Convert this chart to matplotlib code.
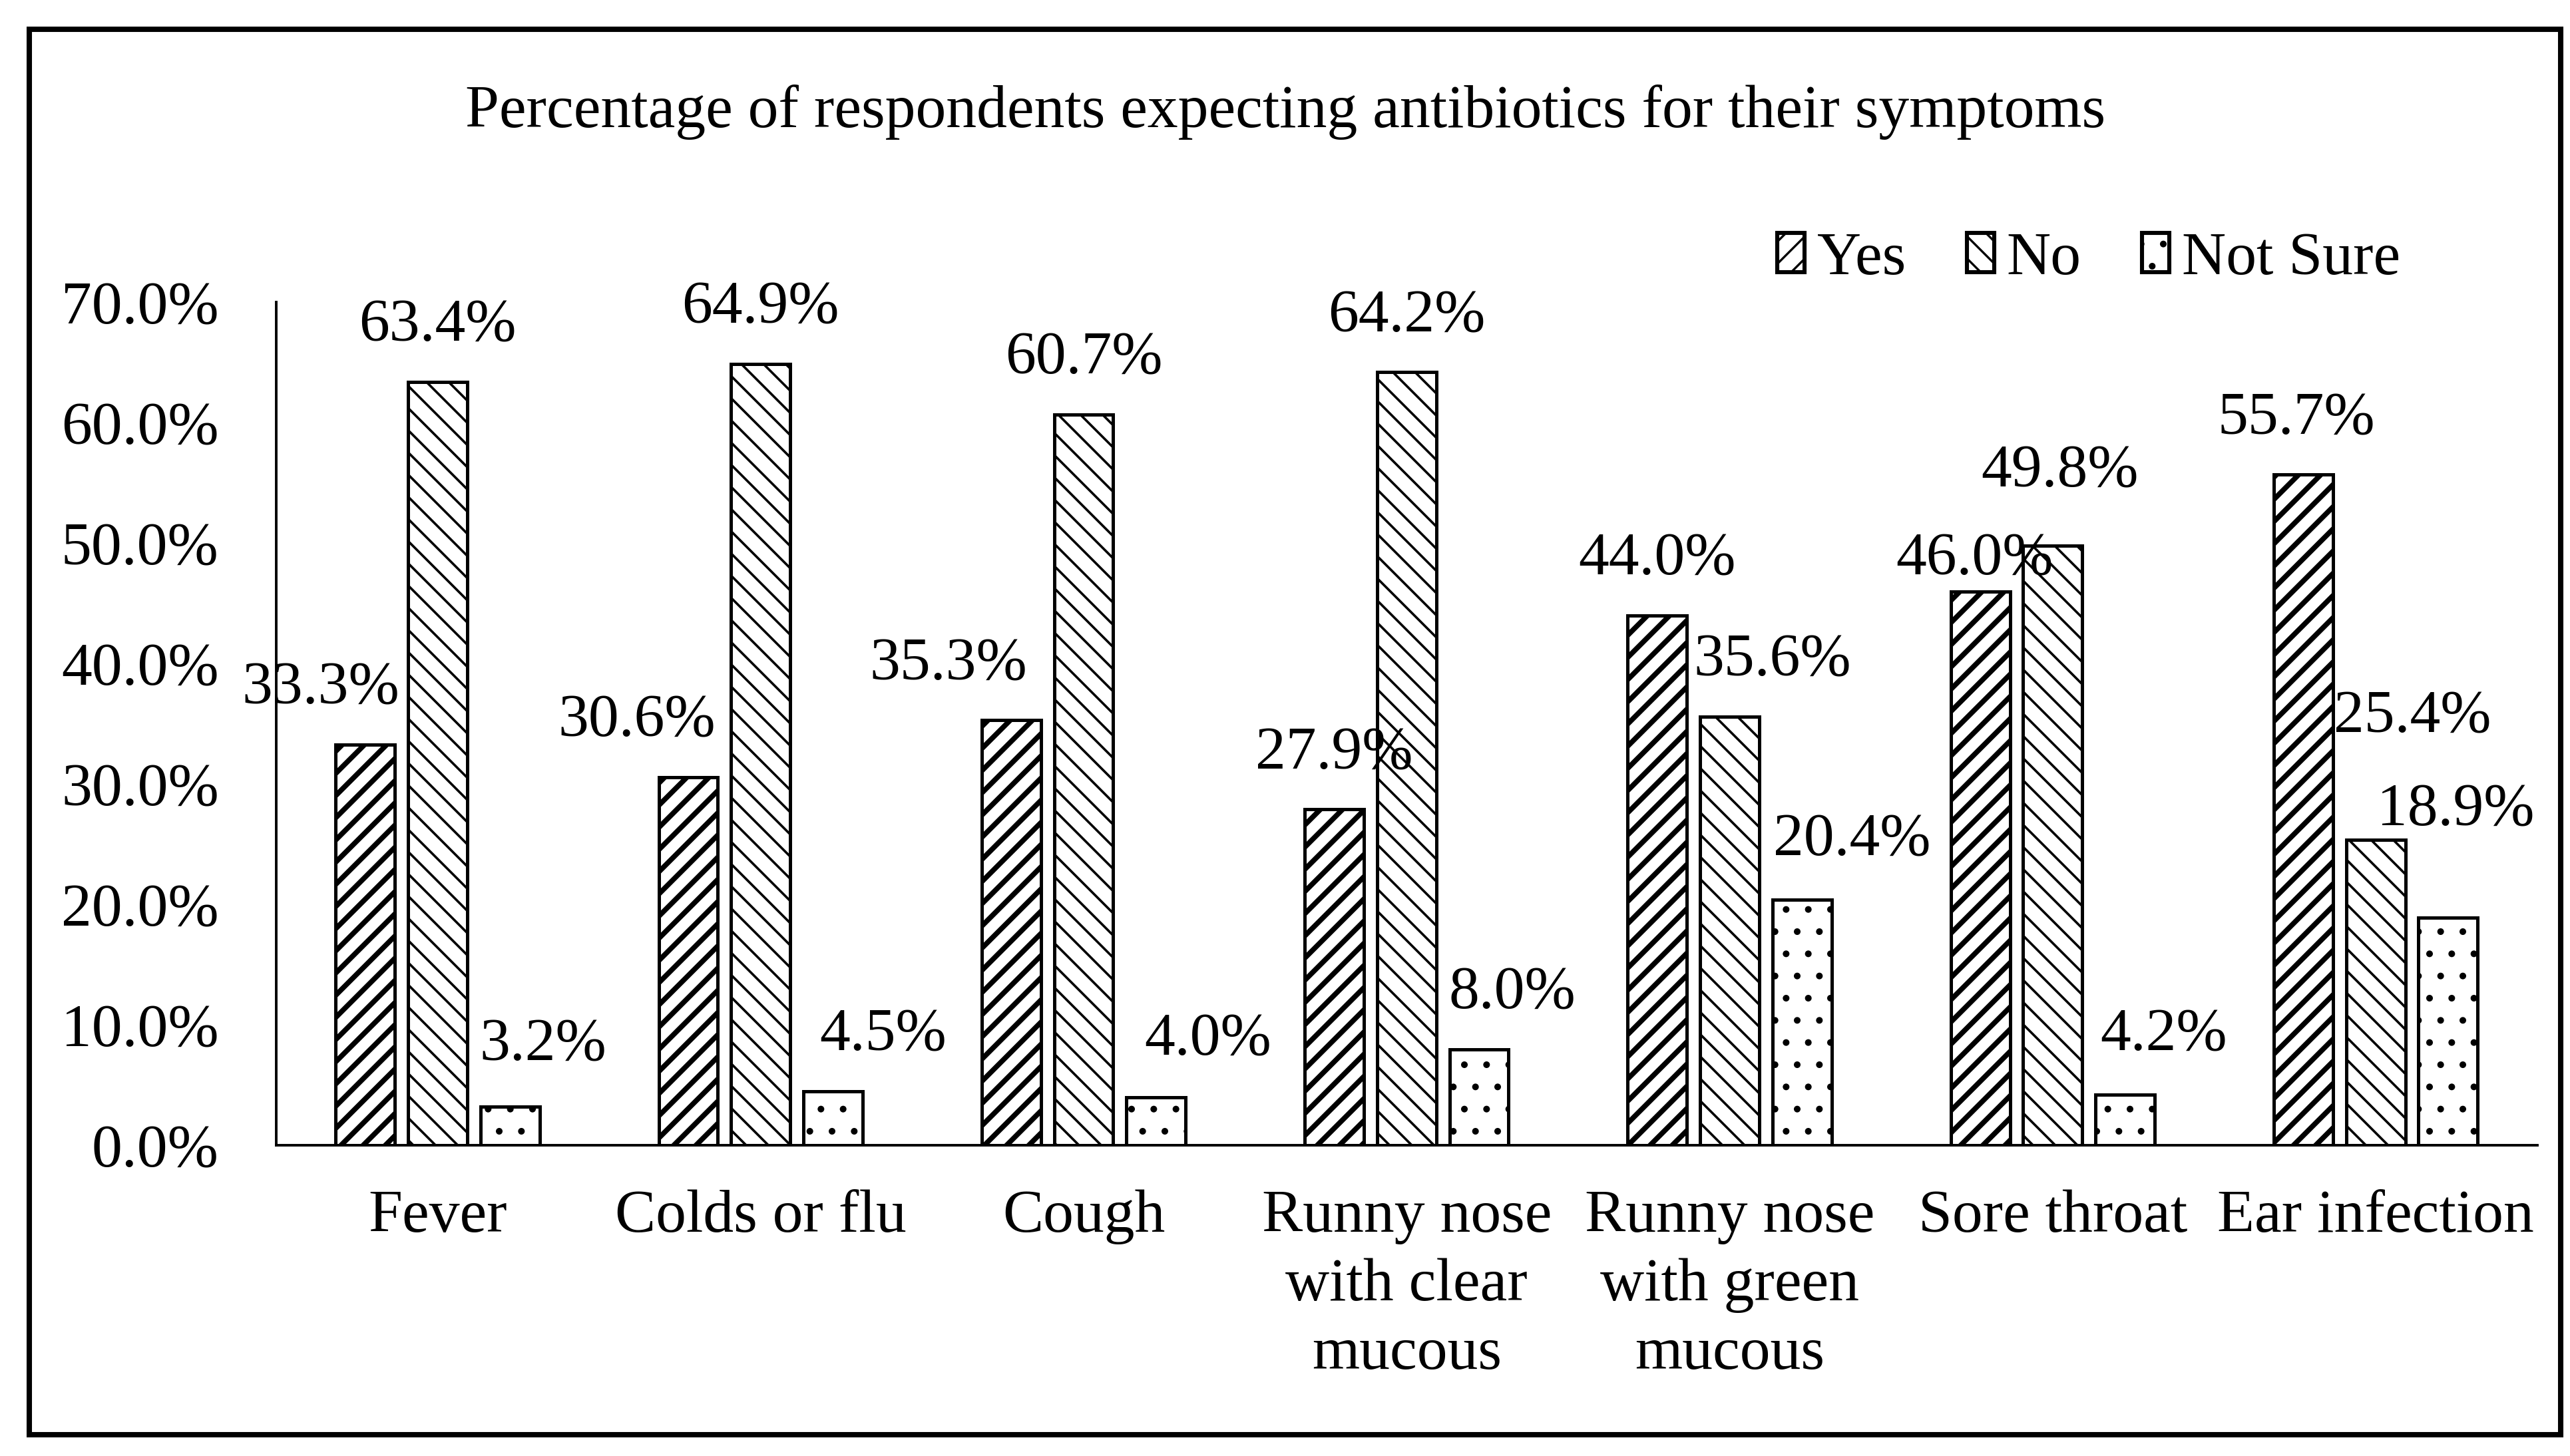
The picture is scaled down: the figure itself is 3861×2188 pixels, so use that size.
import matplotlib
matplotlib.use("Agg")
import matplotlib.pyplot as plt
import numpy as np
from matplotlib.patches import Patch, Rectangle
from matplotlib.ticker import PercentFormatter

# ---------------------------------------------------------------------------
# Data
# ---------------------------------------------------------------------------

symptoms = ["Fever", "Colds or flu", "Cough", "Runny nose\nwith clear\nmucous",
            "Runny nose\nwith green\nmucous", "Sore throat", "Ear infection"]
series_names = ["Yes", "No", "Not Sure"]
yes_pct      = [33.3, 30.6, 35.3, 27.9, 44.0, 46.0, 55.7]
no_pct       = [63.4, 64.9, 60.7, 64.2, 35.6, 49.8, 25.4]
not_sure_pct = [3.2, 4.5, 4.0, 8.0, 20.4, 4.2, 18.9]
y_ticks      = [0, 10, 20, 30, 40, 50, 60, 70]

# label nudges (points) so the data labels sit where the original put them
yes_dx = [-24, -28, -34, 0, 0, -3, -4]
yes_dy = [0, 0, 0, 0, 0, -13, 0]
no_dx  = [0, 0, 0, 0, 23, 4, 20]
no_dy  = [0, 0, 0, 0, 0, 10, 36]
ns_dx  = [18, 27, 28, 18, 27, 21, 4]
ns_dy  = [3, 0, 1, 0, 2, 2, 28]

plt.rcParams["font.family"] = ["Liberation Serif", "DejaVu Serif"]
FS = 33

fig = plt.figure(figsize=(19.31, 10.94), dpi=200)
ax = fig.add_axes([0.1074, 0.2133, 0.987 - 0.1074, 0.7923 - 0.2133])

x = np.arange(len(symptoms))
bar_w = 0.183
step = 0.224

styles = [
    dict(hatch="//", hlw=2.8),
    dict(hatch="\\\\", hlw=1.3),
    dict(hatch=".", hlw=1.2),
]
all_vals = [yes_pct, no_pct, not_sure_pct]
nudges = [(yes_dx, yes_dy), (no_dx, no_dy), (ns_dx, ns_dy)]

handles = []
for i, (name, vals, st) in enumerate(zip(series_names, all_vals, styles)):
    plt.rcParams["hatch.linewidth"] = st["hlw"]
    bars = ax.bar(x + (i - 1) * step, vals, bar_w, color="white",
                  edgecolor="black", linewidth=1.8, hatch=st["hatch"], zorder=3)
    for b in bars:
        if hasattr(b, "set_hatch_linewidth"):
            b.set_hatch_linewidth(st["hlw"])
    dxs, dys = nudges[i]
    for j, b in enumerate(bars):
        ax.annotate(f"{vals[j]:.1f}%", (b.get_x() + b.get_width() / 2, vals[j]),
                    xytext=(dxs[j], 30 + dys[j]), textcoords="offset points",
                    ha="center", va="center", fontsize=FS, zorder=4)
    h = Patch(facecolor="white", edgecolor="black", linewidth=2.2,
              hatch=st["hatch"], label=name)
    if hasattr(h, "set_hatch_linewidth"):
        h.set_hatch_linewidth(st["hlw"])
    handles.append(h)

ax.set_xlim(-0.5, len(symptoms) - 0.5)
ax.set_ylim(0, 70)
ax.set_yticks(y_ticks)
ax.yaxis.set_major_formatter(PercentFormatter(decimals=1))
ax.set_xticks(x)
ax.set_xticklabels(symptoms, fontsize=FS, linespacing=1.32)
ax.tick_params(axis="y", labelsize=FS, length=0, pad=31)
ax.tick_params(axis="x", length=0, pad=24)

for side in ["top", "right"]:
    ax.spines[side].set_visible(False)
for side in ["left", "bottom"]:
    ax.spines[side].set_linewidth(1.4)

fig.text(0.5, 0.923, "Percentage of respondents expecting antibiotics for their symptoms",
         ha="center", va="center", fontsize=33)

fig.legend(handles=handles, loc="center right", bbox_to_anchor=(0.9455, 0.822),
           ncol=3, frameon=False, fontsize=FS, handlelength=0.45, handleheight=0.6,
           handletextpad=0.2, columnspacing=1.0, borderpad=0)

# outer frame around the whole chart
fig.patches.append(Rectangle((0.0115, 0.0147), 0.9847, 0.965, transform=fig.transFigure,
                             fill=False, edgecolor="black", linewidth=2.9))

fig.savefig("out.png", dpi=200)
